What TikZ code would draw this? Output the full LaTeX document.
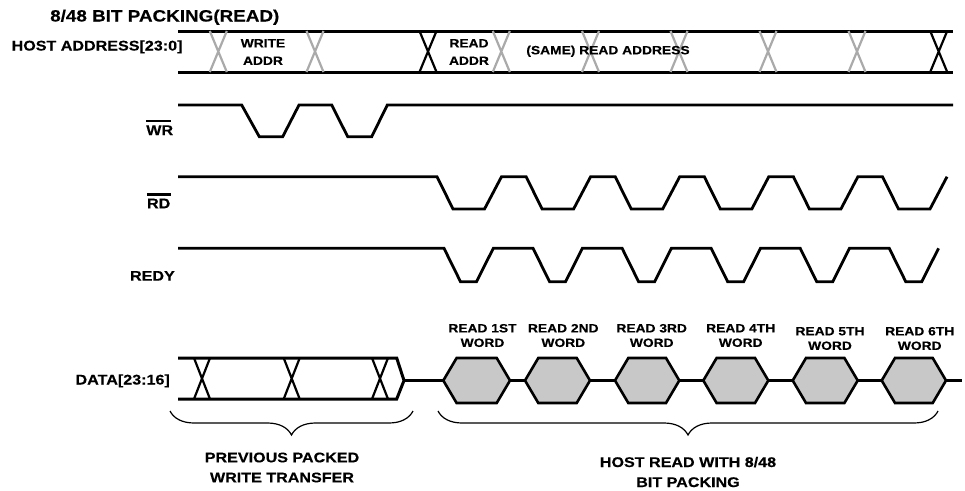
\documentclass[tikz,border=0pt]{standalone}
\usepackage{fontspec}
\newfontfamily\lab{Liberation Sans}[FakeStretch=1.15, BoldFeatures={FakeBold=0.35}]
\usetikzlibrary{decorations.pathreplacing}
\definecolor{xgray}{RGB}{170,170,170}
\definecolor{hexfill}{RGB}{200,200,200}
\begin{document}
\begin{tikzpicture}[x=1pt,y=-1pt,
  wave/.style={line width=2.8pt, line join=miter},
  bus/.style={line width=3pt},
  xblack/.style={line width=2.2pt},
  xgrey/.style={line width=2.2pt, draw=xgray},
  hexa/.style={line width=2.6pt, fill=hexfill, draw=black, line join=miter},
  sig/.style={font=\lab\bfseries\fontsize{14}{16}\selectfont, inner sep=0pt, anchor=base east},
  smalltxt/.style={font=\lab\bfseries\fontsize{12}{17.5}\selectfont, inner sep=0pt, align=center},
  wordtxt/.style={font=\lab\bfseries\fontsize{12}{14.5}\selectfont, inner sep=0pt, align=center},
  bigtxt/.style={font=\lab\bfseries\fontsize{14}{20}\selectfont, inner sep=0pt, align=center},
  brc/.style={decorate, decoration={brace, amplitude=24pt}, line width=1.2pt},
]
\path[use as bounding box] (0,0) rectangle (965,490);

% title
\node[anchor=base west, font=\lab\bfseries\fontsize{16.4}{18}\selectfont, inner sep=0pt] (title) at (50,21.5) {8/48 BIT PACKING(READ)};

% signal labels
\node[sig] (addr) at (182.7,50.5) {HOST ADDRESS[23:0]};
\node[sig] (wr) at (173.3,135) {WR};
\node[sig] (rd) at (170.5,208.3) {RD};
\node[sig] (redy) at (175,280.7) {REDY};
\node[sig] (data) at (170,384.5) {DATA[23:16]};
\draw[line width=2.4pt] ([yshift=4pt]wr.north west) -- ([yshift=4pt,xshift=-2pt]wr.north east);
\draw[line width=2.4pt] ([yshift=4pt]rd.north west) -- ([yshift=4pt]rd.north east);

% address bus
\draw[bus] (178,31) -- (953,31);
\draw[bus] (178,72) -- (953,72);
\foreach \c in {218.3,315,501.3,590.5,679,768,857}
  \draw[xgrey] ({\c-8.5},31) -- ({\c+8.5},72) ({\c-8.5},72) -- ({\c+8.5},31);
\foreach \c in {428,938.7}
  \draw[xblack] ({\c-8.5},31) -- ({\c+8.5},72) ({\c-8.5},72) -- ({\c+8.5},31);
\node[smalltxt] (waddr) at (263,52) {WRITE\\ADDR};
\node[smalltxt] (raddr) at (469,52) {READ\\ADDR};
\node[font=\lab\bfseries\fontsize{12}{14}\selectfont, inner sep=0pt, anchor=base] (same) at (608,54.3) {(SAME) READ ADDRESS};

% WR
\draw[wave] (178,105) -- (241.7,105) -- (259.3,136.7) -- (282.7,136.7) -- (299,105)
  -- (331.7,105) -- (347.7,136.7) -- (371.7,136.7) -- (387.3,105) -- (953,105);

% RD
\draw[wave] (178,176.7) \foreach \k in {0,...,5} {
  -- ({437+89.1*\k},176.7) -- ++(16,32.3) -- ++(31.5,0) -- ++(17,-32.3) };

% REDY
\draw[wave] (178,248.3) \foreach \k in {0,...,5} {
  -- ({444+89.05*\k},248.3) -- ++(16.5,33.4) -- ++(16,0) -- ++(16.8,-33.4) };

% data bus, previous write
\draw[bus, line join=miter] (178,358) -- (396.7,358) -- (404,380.5) -- (396.7,399) -- (178,399);
\foreach \c in {202,291.7,380}
  \draw[xblack] ({\c-8},358) -- ({\c+8},399) ({\c-8},399) -- ({\c+8},358);

% midline
\draw[wave] (404,380.5) -- (443.3,380.5);
\draw[wave] (510,380.5) -- (525,380.5);
\draw[wave] (590,380.5) -- (615,380.5);
\draw[wave] (679.3,380.5) -- (703.3,380.5);
\draw[wave] (768.3,380.5) -- (792.7,380.5);
\draw[wave] (857.7,380.5) -- (881.7,380.5);
\draw[wave] (946,380.5) -- (962,380.5);

% hexagons (read words)
\foreach \L/\R in {443.3/510, 525/590, 615/679.3, 703.3/768.3, 792.7/857.7, 881.7/946}
  \draw[hexa] (\L,380.5) -- ({\L+13.3},358) -- ({\R-13.3},358) -- (\R,380.5)
    -- ({\R-13.3},403) -- ({\L+13.3},403) -- cycle;

\node[wordtxt] (w1) at (482.5,335.5) {READ 1ST\\WORD};
\node[wordtxt] (w2) at (563.3,335.5) {READ 2ND\\WORD};
\node[wordtxt] (w3) at (651.7,335.5) {READ 3RD\\WORD};
\node[wordtxt] (w4) at (740.7,335.5) {READ 4TH\\WORD};
\node[wordtxt] (w5) at (830,338.5) {READ 5TH\\WORD};
\node[wordtxt] (w6) at (919.7,338.5) {READ 6TH\\WORD};

% braces
\draw[brc] (413,411) -- (170,411);
\draw[brc] (938,411) -- (438,411);
\node[bigtxt] (prev) at (282,467.5) {PREVIOUS PACKED\\WRITE TRANSFER};
\node[bigtxt] (host) at (688,472) {HOST READ WITH 8/48\\BIT PACKING};
\end{tikzpicture}
\end{document}
